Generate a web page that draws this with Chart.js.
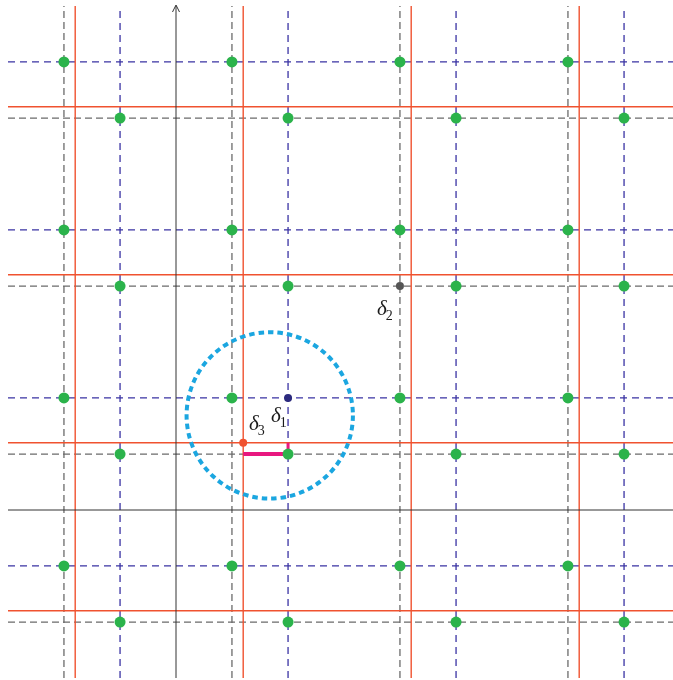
<!DOCTYPE html>
<html>
<head>
<meta charset="utf-8">
<script src="https://cdn.jsdelivr.net/npm/chart.js@4/dist/chart.umd.min.js"></script>
<style>
    html, body { margin: 0; padding: 0; background: #fff; }
    #wrap { width: 673px; height: 680px; position: relative; }
</style>
</head>
<body>
<div id="wrap"><canvas id="latticeChart"></canvas></div>
<script>
// Lattice line positions (units of one cell)
const redLines = [-0.6, 0.4, 1.4, 2.4];
const blueLines = [-0.333, 0.667, 1.667, 2.667];
const grayLines = [-0.667, 0.333, 1.333, 2.333];
const lineSpan = [-1, 3];

// Highlighted points
const deltaOne = [0.667, 0.667];
const deltaTwo = [1.333, 1.333];
const deltaThree = [0.4, 0.4];
const stepPath = [[0.4, 0.333], [0.667, 0.333]];
const stepTick = [[0.667, 0.4], [0.667, 0.333]];

// Dashed circle
const circleCenter = [0.558, 0.563];
const circleRadius = 0.495;

// Labels: subscript, anchor x, anchor y
const labelNames = ["1", "2", "3"];
const labelX = [0.565, 1.196, 0.435];
const labelY = [0.524, 1.161, 0.476];

// Colors
const colors = {
    red: "#f0522f",
    blue: "#3a33a3",
    gray: "#6b6b6b",
    green: "#2bb34b",
    axis: "#333333",
    magenta: "#e8187f",
    circle: "#1ba6e0",
    navy: "#2c2b7e",
    dot: "#555555"
};

function vLine(x) {
    return [{ x: x, y: lineSpan[0] }, { x: x, y: lineSpan[1] }];
}
function hLine(y) {
    return [{ x: lineSpan[0], y: y }, { x: lineSpan[1], y: y }];
}
function lineSet(data, color, width, dash, order) {
    return {
        data: data,
        showLine: true,
        borderColor: color,
        borderWidth: width,
        borderDash: dash,
        pointRadius: 0,
        fill: false,
        order: order
    };
}

const datasets = [];

// Gray dashed lines
grayLines.forEach(v => {
    datasets.push(lineSet(vLine(v), colors.gray, 1.3, [7, 4], 20));
    datasets.push(lineSet(hLine(v), colors.gray, 1.3, [7, 4], 20));
});
// Blue dashed lines
blueLines.forEach(v => {
    datasets.push(lineSet(vLine(v), colors.blue, 1.3, [7, 5], 19));
    datasets.push(lineSet(hLine(v), colors.blue, 1.3, [7, 5], 19));
});
// Red solid lines
redLines.forEach(v => {
    datasets.push(lineSet(vLine(v), colors.red, 1.4, [], 18));
    datasets.push(lineSet(hLine(v), colors.red, 1.4, [], 18));
});
// Axes
datasets.push(lineSet(vLine(0), colors.axis, 1, [], 17));
datasets.push(lineSet(hLine(0), colors.axis, 1, [], 17));

// Magenta step
datasets.push(lineSet(stepPath.map(p => ({ x: p[0], y: p[1] })), colors.magenta, 4, [], 10));
datasets.push(lineSet(stepTick.map(p => ({ x: p[0], y: p[1] })), colors.magenta, 3, [], 10));

// Green lattice points
const greenPoints = [];
grayLines.forEach(x => blueLines.forEach(y => greenPoints.push({ x: x, y: y })));
blueLines.forEach(x => grayLines.forEach(y => greenPoints.push({ x: x, y: y })));
datasets.push({
    data: greenPoints,
    pointRadius: 5.5,
    pointBackgroundColor: colors.green,
    pointBorderWidth: 0,
    order: 5
});

// Special points
datasets.push({
    data: [{ x: deltaOne[0], y: deltaOne[1] }],
    pointRadius: 4,
    pointBackgroundColor: colors.navy,
    pointBorderWidth: 0,
    order: 4
});
datasets.push({
    data: [{ x: deltaTwo[0], y: deltaTwo[1] }],
    pointRadius: 4,
    pointBackgroundColor: colors.dot,
    pointBorderWidth: 0,
    order: 4
});
datasets.push({
    data: [{ x: deltaThree[0], y: deltaThree[1] }],
    pointRadius: 4,
    pointBackgroundColor: colors.red,
    pointBorderWidth: 0,
    order: 4
});

// Circle, arrow head and delta labels
const overlayPlugin = {
    id: "overlay",
    afterDatasetsDraw(chart) {
        const ctx = chart.ctx;
        const xs = chart.scales.x;
        const ys = chart.scales.y;

        // Arrow head on the vertical axis
        const ax = xs.getPixelForValue(0);
        const ay = ys.getPixelForValue(lineSpan[1]);
        ctx.save();
        ctx.strokeStyle = colors.axis;
        ctx.lineWidth = 1;
        ctx.beginPath();
        ctx.moveTo(ax - 3.5, ay + 6);
        ctx.lineTo(ax, ay - 1);
        ctx.lineTo(ax + 3.5, ay + 6);
        ctx.stroke();
        ctx.restore();

        // Dashed circle
        const cx = xs.getPixelForValue(circleCenter[0]);
        const cy = ys.getPixelForValue(circleCenter[1]);
        const r = xs.getPixelForValue(circleCenter[0] + circleRadius) - cx;
        ctx.save();
        ctx.strokeStyle = colors.circle;
        ctx.lineWidth = 4;
        ctx.setLineDash([5.5, 4]);
        ctx.beginPath();
        ctx.arc(cx, cy, r, 0, Math.PI * 2);
        ctx.stroke();
        ctx.restore();

        // Labels
        ctx.save();
        ctx.fillStyle = "#1a1a1a";
        ctx.textBaseline = "alphabetic";
        labelNames.forEach((name, i) => {
            const px = xs.getPixelForValue(labelX[i]);
            const py = ys.getPixelForValue(labelY[i]);
            ctx.font = "italic 21px 'Liberation Serif'";
            ctx.fillText("δ", px, py);
            const w = ctx.measureText("δ").width;
            ctx.font = "14px 'Liberation Serif'";
            ctx.fillText(name, px + w - 1, py + 5);
        });
        ctx.restore();
    }
};

const latticeChart = new Chart(document.getElementById("latticeChart"), {
    type: "scatter",
    data: { datasets: datasets },
    options: {
        responsive: true,
        maintainAspectRatio: false,
        animation: false,
        layout: { padding: 0, autoPadding: false },
        scales: {
            x: { type: "linear", min: -176 / 168, max: 497 / 168, display: false },
            y: { type: "linear", min: -170 / 168, max: 510 / 168, display: false }
        },
        plugins: {
            legend: { display: false },
            tooltip: { enabled: false }
        },
        events: []
    },
    plugins: [overlayPlugin]
});
</script>
</body>
</html>
